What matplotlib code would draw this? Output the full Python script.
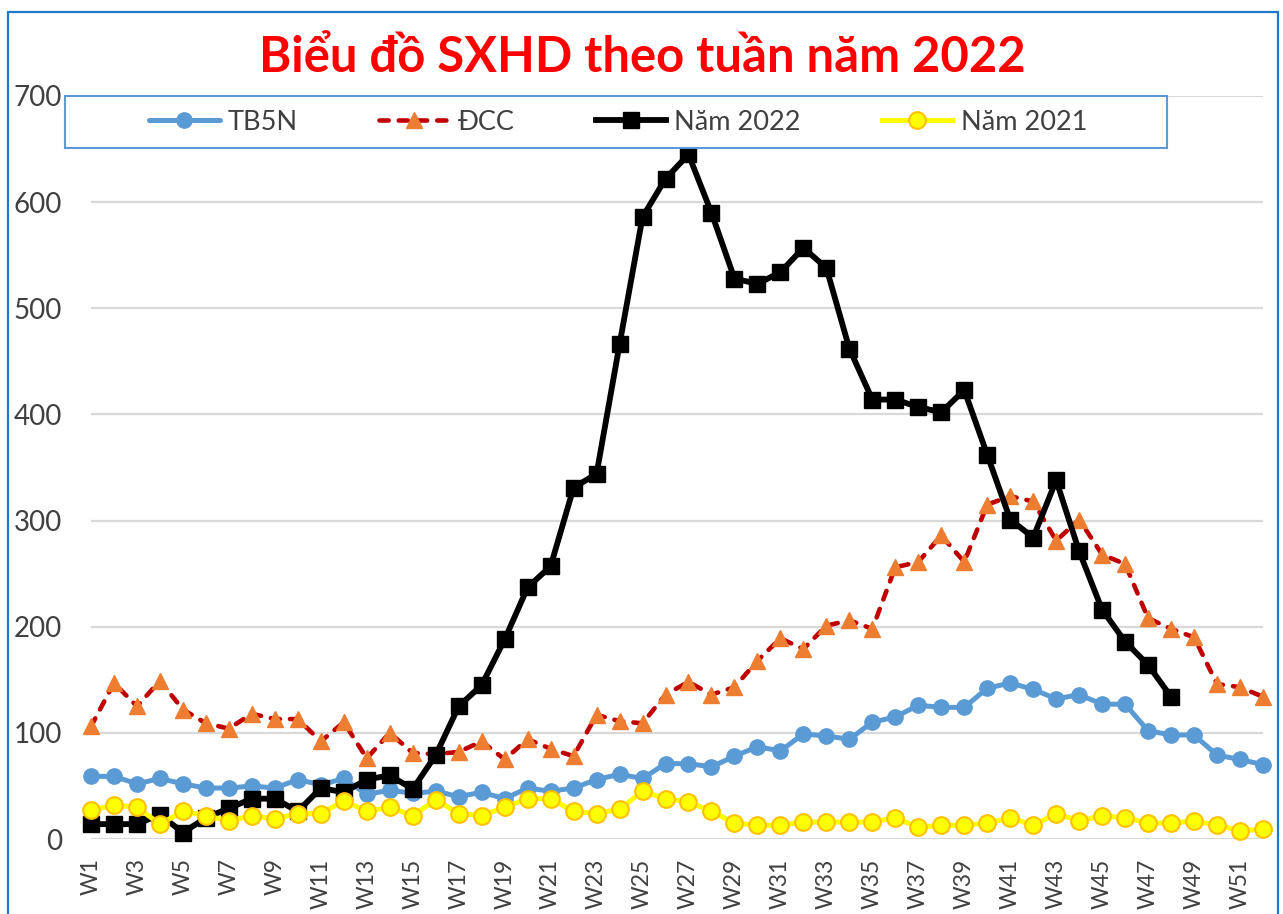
import matplotlib
matplotlib.use("Agg")
import matplotlib.pyplot as plt
from matplotlib.patches import Rectangle
import numpy as np

plt.rcParams['font.family'] = ['Lato', 'DejaVu Sans']

weeks = [f"W{i}" for i in range(1, 53)]
tb5n = [59, 59, 52, 57, 52, 48, 48, 50, 48, 56,
        51, 57, 42, 46, 43, 45, 40, 44, 38, 48,
        45, 48, 56, 61, 57, 71, 71, 68, 78, 87,
        83, 99, 97, 94, 110, 115, 126, 124, 124, 142,
        147, 141, 132, 136, 127, 127, 102, 98, 98, 79,
        75, 70]
dcc = [106, 147, 125, 149, 122, 109, 104, 118, 113, 113,
       92, 110, 76, 100, 81, 80, 82, 92, 75, 94,
       85, 78, 117, 111, 109, 136, 148, 136, 143, 168,
       189, 179, 201, 206, 198, 256, 261, 286, 261, 315,
       323, 318, 281, 301, 268, 259, 208, 198, 190, 146,
       143, 134]
nam2022 = [14, 14, 14, 23, 6, 20, 29, 38, 38, 26,
           48, 44, 56, 60, 47, 79, 125, 145, 188, 237,
           257, 331, 344, 466, 586, 622, 645, 590, 528, 523,
           534, 557, 538, 462, 414, 414, 407, 402, 423, 362,
           301, 284, 338, 271, 216, 186, 164, 134]
nam2021 = [27, 32, 30, 14, 26, 22, 17, 22, 19, 24,
           24, 36, 26, 30, 22, 37, 24, 22, 30, 38,
           38, 26, 24, 28, 45, 38, 35, 26, 15, 13,
           13, 16, 16, 16, 16, 20, 11, 13, 13, 15,
           20, 13, 24, 17, 22, 20, 15, 15, 17, 13,
           8, 9]
series_names = ["TB5N", "ĐCC", "Năm 2022", "Năm 2021"]
title = "Biểu đồ SXHD theo tuần năm 2022"
yticks = [0, 100, 200, 300, 400, 500, 600, 700]

W, H = 1283, 914
fig = plt.figure(figsize=(W / 100, H / 100), dpi=100)
ax = fig.add_axes([91 / W, 75 / H, (1263 - 91) / W, (839 - 96) / H])

x = np.arange(1, 53)
x22 = np.arange(1, len(nam2022) + 1)

l1, = ax.plot(x, tb5n, color='#5B9BD5', lw=3.6, marker='o', ms=11,
              mfc='#5B9BD5', mec='#5B9BD5', clip_on=False, zorder=3,
              solid_capstyle='round', solid_joinstyle='round')
l2, = ax.plot(x, dcc, color='#C00000', lw=3.3, linestyle=(0, (2.0, 2.2)),
              dash_capstyle='round', marker='^', ms=11.5, mfc='#ED7D31',
              mec='#ED7D31', clip_on=False, zorder=4)
l3, = ax.plot(x22, nam2022, color='black', lw=4.2, marker='s', ms=11.5,
              mfc='black', mec='black', clip_on=False, zorder=5,
              solid_joinstyle='round')
l4, = ax.plot(x, nam2021, color='#FFFF00', lw=3.6, marker='o', ms=12,
              mfc='#FFFF00', mec='#FFC000', mew=1.5, clip_on=False, zorder=6,
              solid_joinstyle='round')

ax.set_xlim(1, 52)
ax.set_ylim(0, 700)
ax.set_yticks(yticks)
ax.set_yticklabels([str(v) for v in yticks])
ax.set_xticks(x[::2])
ax.set_xticklabels(weeks[::2], rotation=90)
ax.tick_params(axis='y', length=0, pad=21, labelsize=20, labelcolor='#404040')
ax.tick_params(axis='x', length=0, pad=14, labelsize=16.5, labelcolor='#404040')
for s in ax.spines.values():
    s.set_visible(False)
ax.grid(axis='y', color='#D9D9D9', lw=1.6, zorder=0)
ax.set_axisbelow(True)

# title
fig.text(642 / W, 1 - 72 / H, title, ha='center', va='baseline',
         fontsize=35.3, fontweight='bold', color='#FF0000')

# legend box
fig.add_artist(Rectangle((65 / W, 1 - 148 / H), (1167 - 65) / W, (148 - 96) / H,
                         transform=fig.transFigure, fill=True, facecolor='white',
                         edgecolor='#5B9BD5', lw=1.5, zorder=10))
leg = fig.legend([l1, l2, l3, l4], series_names, loc='center',
                 bbox_to_anchor=(618 / W, 1 - 122 / H), bbox_transform=fig.transFigure,
                 ncol=4, frameon=False, fontsize=19.5, handlelength=2.6,
                 handletextpad=0.3, columnspacing=3.0, borderaxespad=0)
leg.set_zorder(11)
for t in leg.get_texts():
    t.set_color('#404040')

# outer chart border
fig.add_artist(Rectangle((8 / W, -0.05), (1278 - 8) / W, 1 - 12 / H + 0.05,
                         transform=fig.transFigure, fill=False,
                         edgecolor='#1F78C8', lw=1.6, zorder=12))

fig.savefig("out.png", dpi=100)
